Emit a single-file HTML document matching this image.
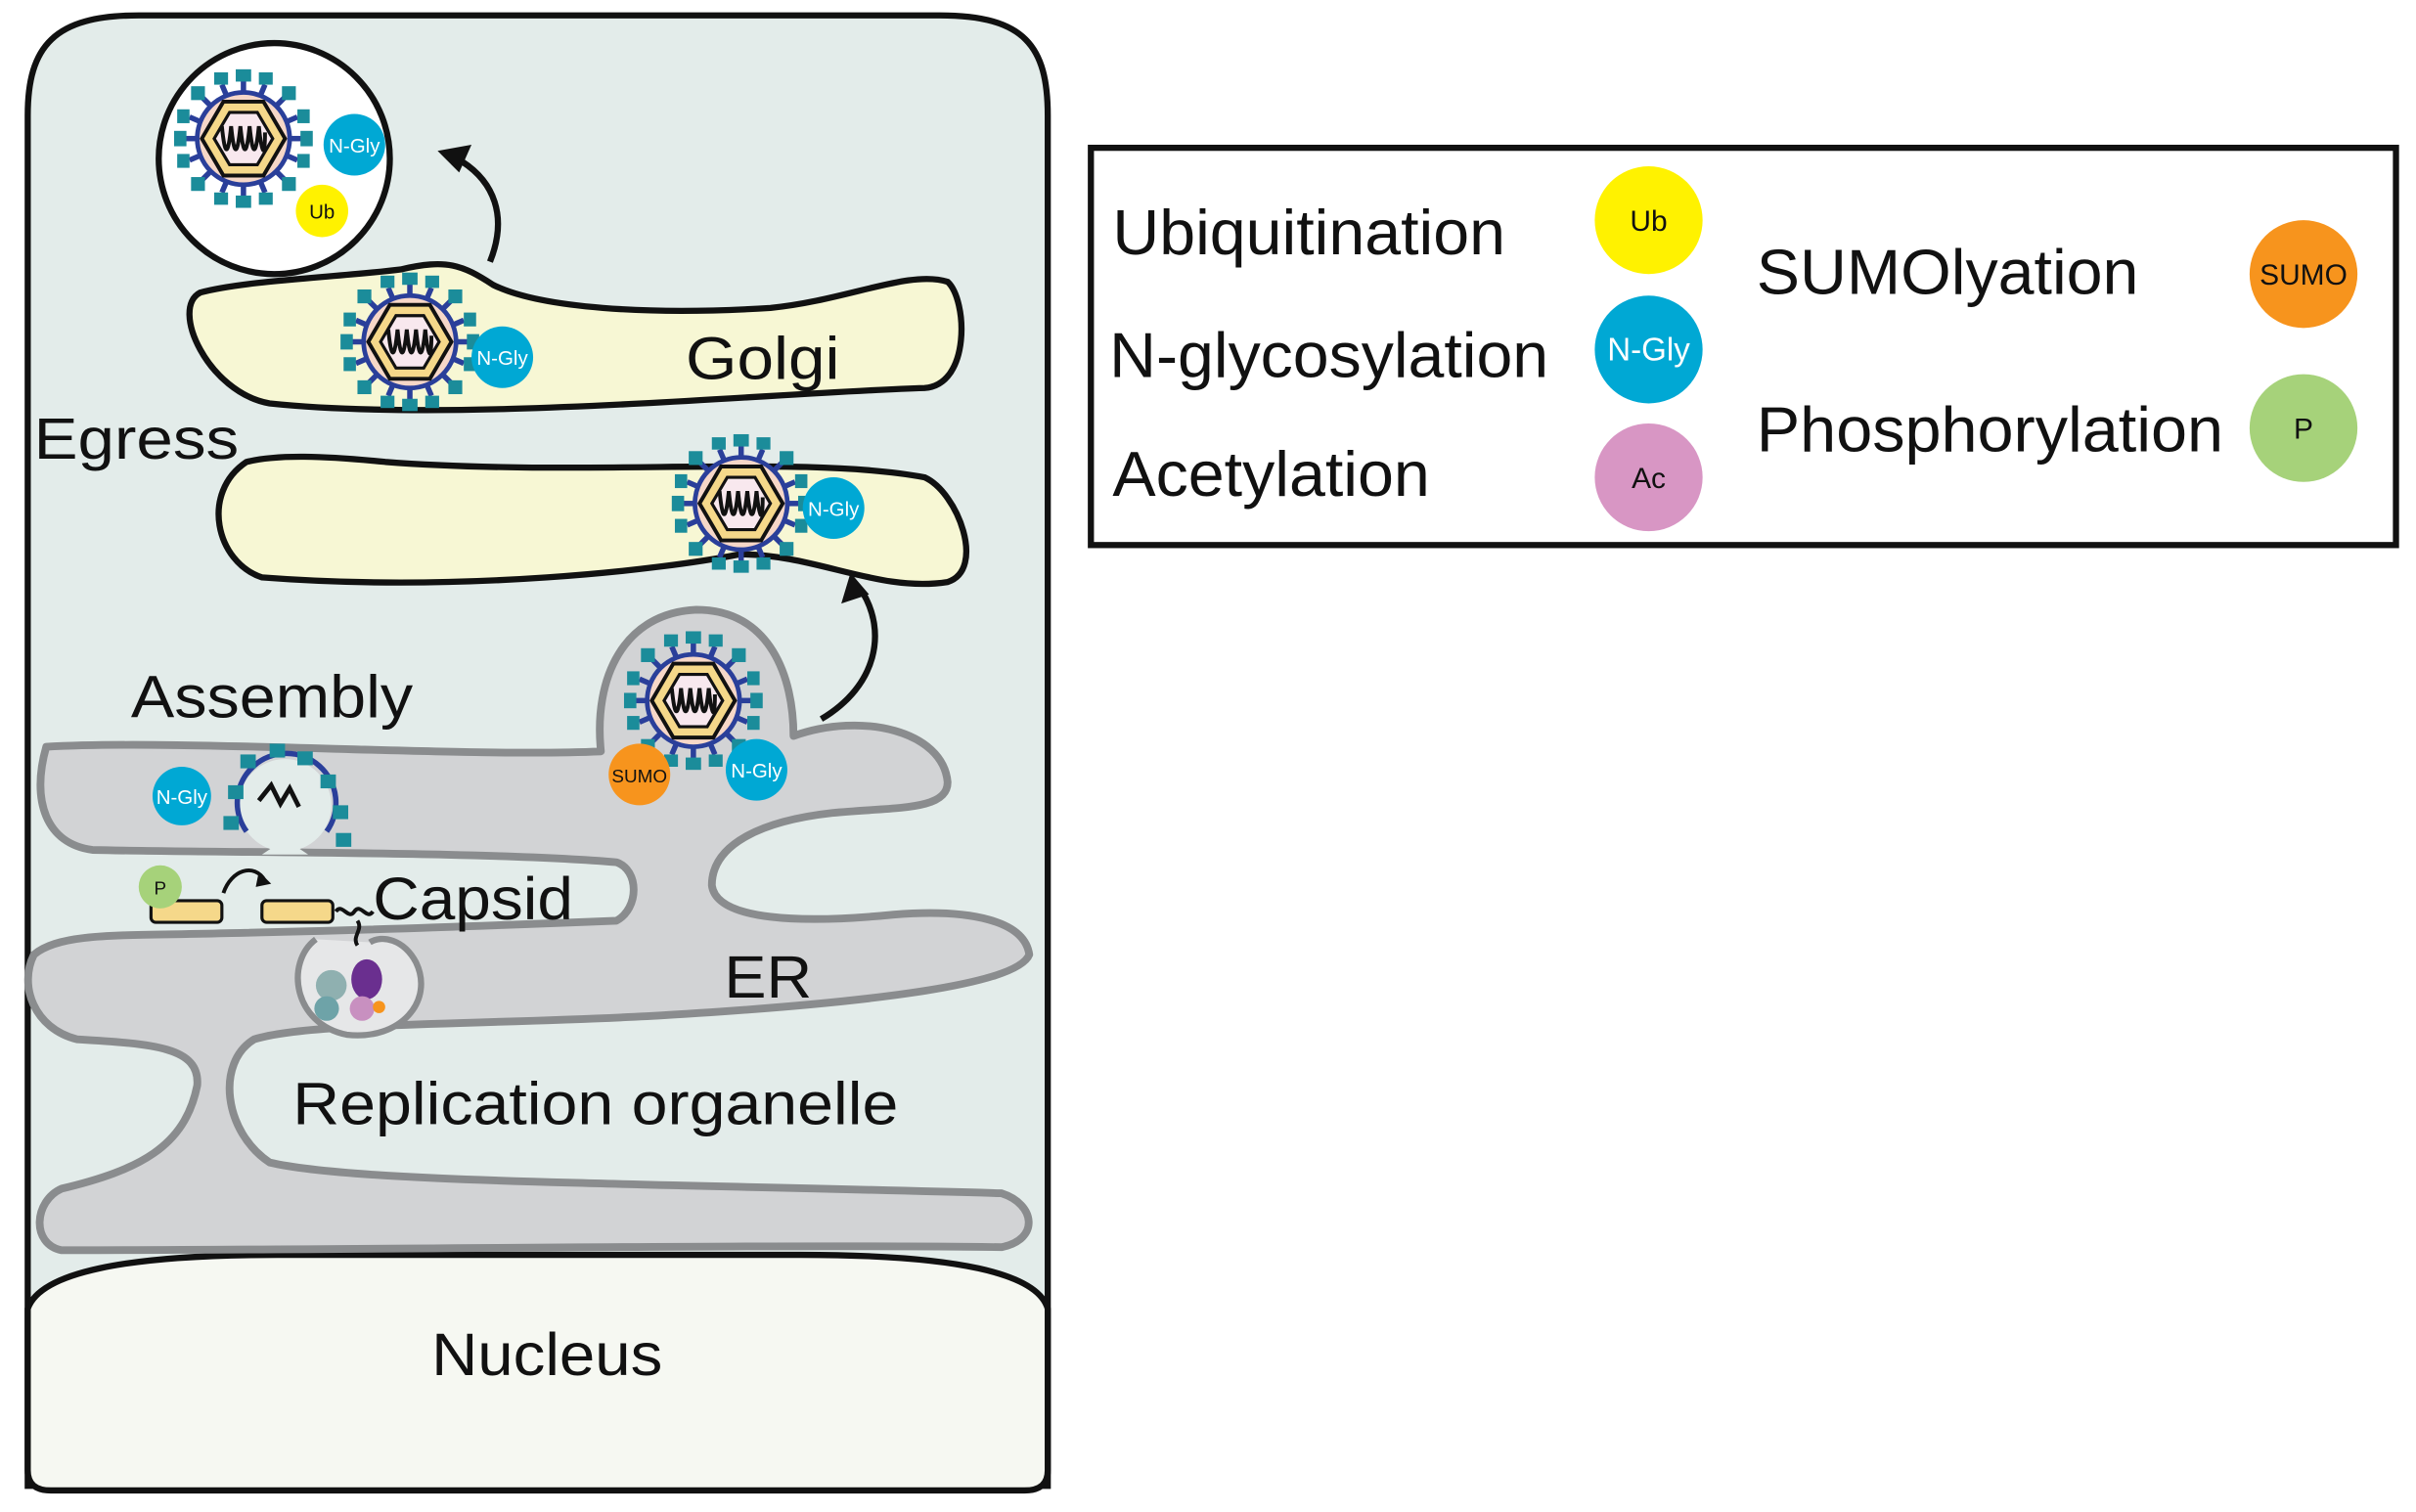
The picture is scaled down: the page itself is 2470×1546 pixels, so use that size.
<!DOCTYPE html>
<html><head><meta charset="utf-8">
<style>
html,body{margin:0;padding:0;background:#fff;}
svg{display:block;}
text{font-family:"Liberation Sans",sans-serif;fill:#111;}
</style></head>
<body>
<svg width="2470" height="1546" viewBox="0 0 1568 982" preserveAspectRatio="none" xmlns="http://www.w3.org/2000/svg">
<defs>
<g id="vir">
  <g stroke="#2a3f9a" stroke-width="3.5">
    <line x1="0" y1="-30" x2="0" y2="-38"/><line x1="0" y1="30" x2="0" y2="38"/>
    <line x1="30" y1="0" x2="38" y2="0"/><line x1="-30" y1="0" x2="-38" y2="0"/>
    <line x1="21" y1="21" x2="27" y2="27"/><line x1="-21" y1="21" x2="-27" y2="27"/>
    <line x1="21" y1="-21" x2="27" y2="-27"/><line x1="-21" y1="-21" x2="-27" y2="-27"/>
    <line x1="11" y1="-28" x2="14" y2="-35"/><line x1="-11" y1="-28" x2="-14" y2="-35"/>
    <line x1="11" y1="28" x2="14" y2="35"/><line x1="-11" y1="28" x2="-14" y2="35"/>
    <line x1="28" y1="11" x2="35" y2="14"/><line x1="-28" y1="11" x2="-35" y2="14"/>
    <line x1="28" y1="-11" x2="35" y2="-14"/><line x1="-28" y1="-11" x2="-35" y2="-14"/>
  </g>
  <g fill="#1b8c9a">
    <rect x="-5" y="-45" width="10" height="8"/><rect x="-5" y="37" width="10" height="8"/>
    <rect x="37" y="-5" width="8" height="10"/><rect x="-45" y="-5" width="8" height="10"/>
    <rect x="25" y="25" width="9" height="9"/><rect x="-34" y="25" width="9" height="9"/>
    <rect x="25" y="-34" width="9" height="9"/><rect x="-34" y="-34" width="9" height="9"/>
    <rect x="10" y="-43" width="9" height="8"/><rect x="-19" y="-43" width="9" height="8"/>
    <rect x="10" y="35" width="9" height="8"/><rect x="-19" y="35" width="9" height="8"/>
    <rect x="35" y="10" width="8" height="9"/><rect x="-43" y="10" width="8" height="9"/>
    <rect x="35" y="-19" width="8" height="9"/><rect x="-43" y="-19" width="8" height="9"/>
  </g>
  <circle r="30" fill="#f6d7c8" stroke="#2a3f9a" stroke-width="3"/>
  <polygon points="-13,-24 13,-24 27,0 13,24 -13,24 -27,0" fill="#f5d88a" stroke="#111" stroke-width="2.5"/>
  <polygon points="-9,-17 9,-17 19,0 9,17 -9,17 -19,0" fill="#f8e8ee" stroke="#111" stroke-width="2"/>
  <path d="M-14,-8 C-12,12 -10,12 -8,-8 C-6,12 -4,12 -2,-8 C0,12 2,12 4,-8 C6,12 8,12 10,-8 C12,12 14,12 14,-4" fill="none" stroke="#111" stroke-width="2.5"/>
</g>
</defs>

<!-- cell -->
<path d="M18,75 C18,30 35,10 90,10 L610,10 C665,10 680,30 680,75 L680,965 L18,965 Z" fill="#e3ecea" stroke="#111" stroke-width="4"/>
<path d="M18,850 Q30,815 180,815 L520,815 Q670,815 680,850 L680,955 Q680,968 665,968 L33,968 Q18,968 18,955 Z" fill="#f6f8f2" stroke="#111" stroke-width="4"/>

<!-- ER -->
<path d="M30,485 C120,480 300,492 390,488 C385,440 405,398 452,396 C500,396 515,440 515,478 C560,462 612,475 615,508 C615,527 580,524 540,528 C495,533 462,548 462,575 C465,598 520,600 580,594 C630,590 665,598 668,620 C660,640 560,652 420,660 C300,666 200,664 165,675 C140,690 145,735 175,755 C230,768 400,768 650,775 C672,782 675,805 650,810 C500,808 200,812 40,812 C20,808 22,780 40,772 C90,760 120,745 128,705 C130,680 100,678 50,675 C22,668 12,640 22,620 C40,605 80,608 150,606 C250,604 350,600 400,598 C415,590 415,565 400,560 C320,553 150,554 60,552 C30,548 20,520 30,485 Z" fill="#d2d3d5" stroke="#8a8c8e" stroke-width="5" stroke-linejoin="round"/>
<path d="M205,610 C185,625 190,665 225,672 C260,676 282,650 270,625 C262,610 248,607 240,612" fill="#e6e7e8" stroke="#8a8c8e" stroke-width="4"/>
<circle cx="185" cy="523" r="30" fill="#e3ecea"/>
<path d="M170,555 L185,545 L200,555" fill="#e3ecea" stroke="none"/>

<!-- Golgi -->
<path d="M130,190 C110,200 135,255 175,262 C300,275 500,255 600,252 C630,250 628,195 615,183 C590,175 550,195 500,200 C420,205 350,200 320,185 C300,172 290,168 260,175 C220,180 160,182 130,190 Z" fill="#f7f7d4" stroke="#111" stroke-width="4"/>
<path d="M160,300 C130,320 140,365 170,375 C300,385 430,370 480,360 C530,360 570,385 615,378 C640,370 622,320 600,310 C520,295 380,310 250,300 C210,296 180,295 160,300 Z" fill="#f7f7d4" stroke="#111" stroke-width="4"/>

<use href="#vir" x="266" y="222"/>
<use href="#vir" x="481" y="327"/>
<use href="#vir" x="450" y="455"/>
<circle cx="178" cy="103" r="75" fill="#fff" stroke="#111" stroke-width="4"/>
<use href="#vir" x="158" y="90"/>
<g fill="none" stroke="#2a3f9a" stroke-width="3.5"><path d="M160,540 A32,32 0 1 1 212,540"/></g>
<g fill="#1b8c9a"><rect x="148" y="510" width="10" height="9"/><rect x="156" y="490" width="10" height="9"/><rect x="175" y="483" width="10" height="9"/><rect x="193" y="488" width="10" height="9"/><rect x="208" y="503" width="10" height="9"/><rect x="216" y="523" width="10" height="9"/><rect x="145" y="530" width="10" height="9"/><rect x="218" y="541" width="10" height="9"/></g>
<path d="M168,520 l8,-10 l6,12 l6,-10 l6,12" fill="none" stroke="#111" stroke-width="3"/>

<rect x="98" y="585" width="46" height="14" rx="3" fill="#f5d88a" stroke="#111" stroke-width="2"/>
<rect x="170" y="585" width="46" height="14" rx="3" fill="#f5d88a" stroke="#111" stroke-width="2"/>
<path d="M145,580 C150,565 165,560 172,572" fill="none" stroke="#111" stroke-width="2.5"/>
<path d="M168,566 l8,8 l-10,2 z" fill="#111"/>
<path d="M218,592 c4,-6 8,6 12,0 c4,-6 8,6 12,0 M232,598 c4,6 -4,10 0,16" fill="none" stroke="#111" stroke-width="2.5"/>
<circle cx="215" cy="640" r="10" fill="#8fb0b0"/><circle cx="212" cy="655" r="8" fill="#6ea3a8"/>
<ellipse cx="238" cy="636" rx="10" ry="13" fill="#6a2f8f"/><circle cx="235" cy="655" r="8" fill="#c890c0"/>
<circle cx="246" cy="654" r="4" fill="#f7941d"/>

<circle cx="230" cy="94" r="20" fill="#00a8d4"/><text x="230" y="99" font-size="13" text-anchor="middle" style="fill:#fff">N-Gly</text>
<circle cx="209" cy="137" r="17" fill="#fff200"/><text x="209" y="142" font-size="13" text-anchor="middle">Ub</text>
<circle cx="326" cy="232" r="20" fill="#00a8d4"/><text x="326" y="237" font-size="13" text-anchor="middle" style="fill:#fff">N-Gly</text>
<circle cx="541" cy="330" r="20" fill="#00a8d4"/><text x="541" y="335" font-size="13" text-anchor="middle" style="fill:#fff">N-Gly</text>
<circle cx="491" cy="500" r="20" fill="#00a8d4"/><text x="491" y="505" font-size="13" text-anchor="middle" style="fill:#fff">N-Gly</text>
<circle cx="415" cy="503" r="20" fill="#f7941d"/><text x="415" y="508" font-size="12" text-anchor="middle">SUMO</text>
<circle cx="118" cy="517" r="19" fill="#00a8d4"/><text x="118" y="522" font-size="13" text-anchor="middle" style="fill:#fff">N-Gly</text>
<circle cx="104" cy="576" r="14" fill="#a6d27a"/><text x="104" y="581" font-size="12" text-anchor="middle">P</text>

<path d="M318,170 C330,140 320,118 300,105" fill="none" stroke="#111" stroke-width="4"/>
<path d="M284,98 l22,-4 l-8,18 z" fill="#111"/>
<path d="M533,467 C570,445 575,410 560,385" fill="none" stroke="#111" stroke-width="4"/>
<path d="M552,372 l-6,20 l18,-6 z" fill="#111"/>

<text x="22" y="298" font-size="38" textLength="133" lengthAdjust="spacingAndGlyphs">Egress</text>
<text x="445" y="246" font-size="39" textLength="100" lengthAdjust="spacingAndGlyphs">Golgi</text>
<text x="85" y="466" font-size="39" textLength="183" lengthAdjust="spacingAndGlyphs">Assembly</text>
<text x="242" y="597" font-size="39" textLength="130" lengthAdjust="spacingAndGlyphs">Capsid</text>
<text x="470" y="648" font-size="39" textLength="57" lengthAdjust="spacingAndGlyphs">ER</text>
<text x="190" y="730" font-size="39" textLength="393" lengthAdjust="spacingAndGlyphs">Replication organelle</text>
<text x="280" y="893" font-size="39" textLength="150" lengthAdjust="spacingAndGlyphs">Nucleus</text>

<rect x="708" y="96" width="847" height="258" fill="#fff" stroke="#111" stroke-width="4"/>
<text x="722" y="165" font-size="41" textLength="255" lengthAdjust="spacingAndGlyphs">Ubiquitination</text>
<text x="720" y="245" font-size="41" textLength="285" lengthAdjust="spacingAndGlyphs">N-glycosylation</text>
<text x="722" y="322" font-size="41" textLength="206" lengthAdjust="spacingAndGlyphs">Acetylation</text>
<text x="1140" y="191" font-size="41" textLength="248" lengthAdjust="spacingAndGlyphs">SUMOlyation</text>
<text x="1140" y="293" font-size="41" textLength="303" lengthAdjust="spacingAndGlyphs">Phosphorylation</text>
<circle cx="1070" cy="143" r="35" fill="#fff200"/><text x="1070" y="150" font-size="19" text-anchor="middle">Ub</text>
<circle cx="1070" cy="227" r="35" fill="#00a8d4"/><text x="1070" y="234" font-size="21" text-anchor="middle" style="fill:#fff">N-Gly</text>
<circle cx="1070" cy="310" r="35" fill="#d896c4"/><text x="1070" y="317" font-size="19" text-anchor="middle">Ac</text>
<circle cx="1495" cy="178" r="35" fill="#f7941d"/><text x="1495" y="185" font-size="19" text-anchor="middle">SUMO</text>
<circle cx="1495" cy="278" r="35" fill="#a6d27a"/><text x="1495" y="285" font-size="19" text-anchor="middle">P</text>
</svg>
</body></html>
